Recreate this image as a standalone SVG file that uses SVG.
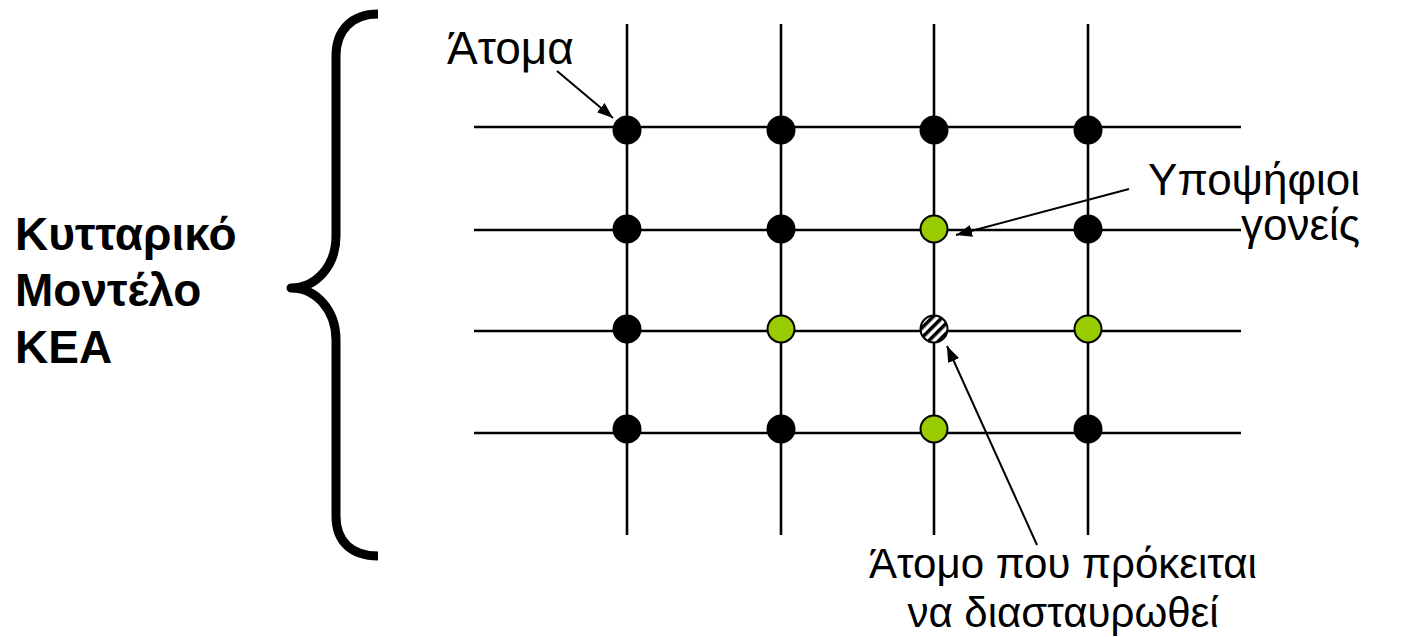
<svg xmlns="http://www.w3.org/2000/svg" width="1409" height="637" viewBox="0 0 1409 637">
<style>
.grid line{stroke:#000;stroke-width:2.6}
.dot{stroke:#000;stroke-width:2}
.blk{fill:#000}
.grn{fill:#99CC00}
.lbl{font-family:"Liberation Sans",Arial,sans-serif;fill:#000}
.bold{font-family:"Liberation Sans",Arial,sans-serif;font-size:46px;font-weight:bold;fill:#000}
.conn{stroke:#000;stroke-width:2;fill:none;marker-end:url(#ah)}
</style>
<defs>
<marker id="ah" viewBox="0 0 16 12" refX="16" refY="6" markerWidth="16" markerHeight="12" markerUnits="userSpaceOnUse" orient="auto">
<path d="M0,0 L16,6 L0,12 Z" fill="#000"/>
</marker>
<pattern id="hatch" patternUnits="userSpaceOnUse" width="7" height="7" patternTransform="rotate(45)">
<rect width="7" height="7" fill="#fff"/>
<rect width="3.5" height="7" fill="#000"/>
</pattern>
</defs>
<rect width="1409" height="637" fill="#fff"/>

<g id="brace">
<path d="M378,14 C352,14 336,30 336,56 L336,236 C336,266 316,288 291,288 C316,288 336,310 336,340 L336,516 C336,542 352,556 378,556" fill="none" stroke="#000" stroke-width="9" stroke-linejoin="round"/>
</g>

<g id="title">
<text class="bold" x="15" y="250">Κυτταρικό</text>
<text class="bold" x="15" y="306">Μοντέλο</text>
<text class="bold" x="15" y="363">ΚΕΑ</text>
</g>

<g id="grid" class="grid">
<line x1="627" y1="24" x2="627" y2="535"/>
<line x1="781" y1="24" x2="781" y2="535"/>
<line x1="934" y1="24" x2="934" y2="535"/>
<line x1="1088" y1="24" x2="1088" y2="535"/>
<line x1="474" y1="127" x2="1241" y2="127"/>
<line x1="474" y1="230" x2="1241" y2="230"/>
<line x1="474" y1="331" x2="1241" y2="331"/>
<line x1="474" y1="433" x2="1241" y2="433"/>
</g>

<g id="atoms">
<circle class="dot blk" cx="627" cy="130" r="13.5"/>
<circle class="dot blk" cx="781" cy="130" r="13.5"/>
<circle class="dot blk" cx="934" cy="130" r="13.5"/>
<circle class="dot blk" cx="1088" cy="130" r="13.5"/>
<circle class="dot blk" cx="627" cy="229" r="13.5"/>
<circle class="dot blk" cx="781" cy="229" r="13.5"/>
<circle class="dot grn" cx="934" cy="229" r="13.5"/>
<circle class="dot blk" cx="1088" cy="229" r="13.5"/>
<circle class="dot blk" cx="627" cy="329" r="13.5"/>
<circle class="dot grn" cx="781" cy="329" r="13.5"/>
<circle id="target" class="dot" cx="934" cy="329" r="13.5" fill="url(#hatch)"/>
<circle class="dot grn" cx="1088" cy="329" r="13.5"/>
<circle class="dot blk" cx="627" cy="429" r="13.5"/>
<circle class="dot blk" cx="781" cy="429" r="13.5"/>
<circle class="dot grn" cx="934" cy="429" r="13.5"/>
<circle class="dot blk" cx="1088" cy="429" r="13.5"/>
</g>

<g id="connectors">
<line class="conn" x1="557" y1="71" x2="613" y2="118"/>
<line class="conn" x1="1129" y1="189" x2="956" y2="235"/>
<line class="conn" x1="1037" y1="545" x2="947" y2="346"/>
</g>

<g id="labels">
<text class="lbl" x="447" y="64" font-size="46">Άτομα</text>
<text class="lbl" x="1360" y="195" font-size="44" text-anchor="end">Υποψήφιοι</text>
<text class="lbl" x="1360" y="240" font-size="44" text-anchor="end">γονείς</text>
<text class="lbl" x="1063" y="578" font-size="42" text-anchor="middle">Άτομο που πρόκειται</text>
<text class="lbl" x="1063" y="627" font-size="42" text-anchor="middle">να διασταυρωθεί</text>
</g>
</svg>
